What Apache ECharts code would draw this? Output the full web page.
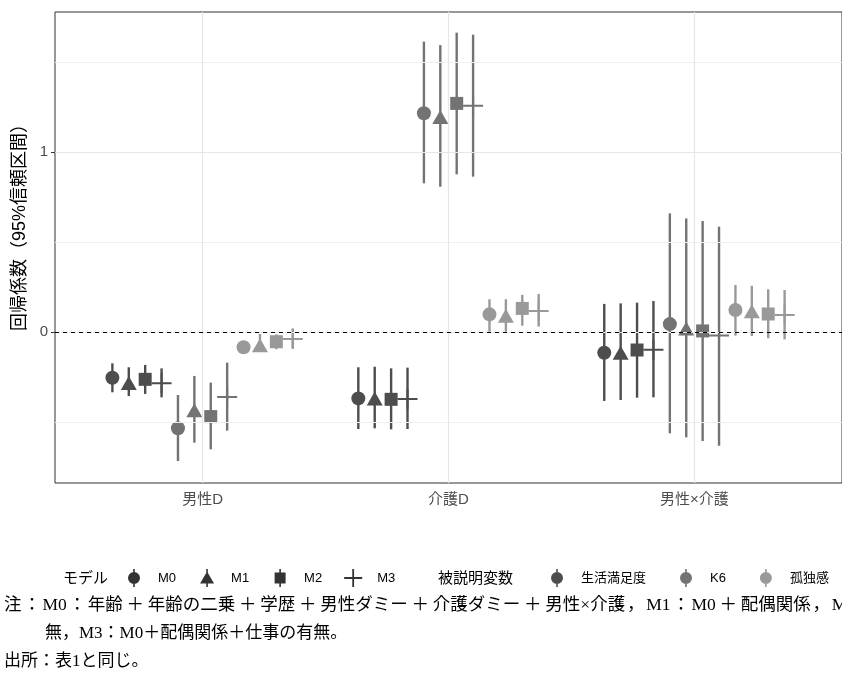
<!DOCTYPE html>
<html><head><meta charset="utf-8">
<script src="https://cdn.jsdelivr.net/npm/echarts@6/dist/echarts.min.js"></script>
<style>html,body{margin:0;padding:0;background:#fff}#c{width:842px;height:679px}</style>
</head><body><div id="c"></div>
<script>
// ---- data ----
const categories = ['男性D', '介護D', '男性×介護'];
const models = ['M0', 'M1', 'M2', 'M3'];
const depVars = ['生活満足度', 'K6', '孤独感'];
const yTickValues = [0, 1];
const minorGridValues = [-0.5, 0.5, 1.5];
const majorGridValues = [0, 1];

// rows = models M0..M3, columns = categories
const lifeEst  = [[-0.254, -0.369, -0.115], [-0.272, -0.359, -0.104], [-0.263, -0.374, -0.100], [-0.285, -0.372, -0.098]];
const lifeLow  = [[-0.335, -0.539, -0.383], [-0.356, -0.535, -0.378], [-0.344, -0.541, -0.365], [-0.363, -0.539, -0.363]];
const lifeHigh = [[-0.174, -0.196,  0.156], [-0.196, -0.193,  0.159], [-0.183, -0.202,  0.163], [-0.202, -0.198,  0.172]];

const k6Est  = [[-0.535, 1.215,  0.044], [-0.424, 1.206,  0.030], [-0.470, 1.270,  0.006], [-0.361, 1.257, -0.020]];
const k6Low  = [[-0.717, 0.826, -0.563], [-0.615, 0.807, -0.585], [-0.652, 0.876, -0.606], [-0.548, 0.863, -0.632]];
const k6High = [[-0.350, 1.613,  0.659], [-0.244, 1.594,  0.631], [-0.281, 1.663,  0.617], [-0.170, 1.652,  0.585]];

const lonelyEst  = [[-0.085, 0.098,  0.122], [-0.063, 0.102,  0.126], [-0.054, 0.131,  0.100], [-0.039, 0.117,  0.094]];
const lonelyLow  = [[-0.105, 0.002, -0.020], [-0.100, 0.002, -0.022], [-0.096, 0.035, -0.035], [-0.090, 0.030, -0.041]];
const lonelyHigh = [[-0.065, 0.182,  0.261], [-0.011, 0.182,  0.257], [-0.013, 0.206,  0.237], [ 0.020, 0.211,  0.233]];

const noteLines = [
  '注：M0：年齢＋年齢の二乗＋学歴＋男性ダミー＋介護ダミー＋男性×介護，M1：M0＋配偶関係，M2：M0＋仕事の有',
  '無，M3：M0＋配偶関係＋仕事の有無。',
  '出所：表1と同じ。'
];

// ---- styling ----
const depColors = ['#4d4d4d', '#737373', '#999999'];
const CJK = "'Liberation Sans','Noto Sans CJK JP',sans-serif";
const SERIF = "'Liberation Serif','Noto Sans CJK JP',serif";
const symCross = 'path://M0,9 L20,9 L20,11 L0,11 Z M9,0 L11,0 L11,20 L9,20 Z';
const modelSymbols = ['circle', 'triangle', 'rect', symCross];
const modelSizes = [[14, 14], [16, 14], [13, 13], [20, 20]];
const modelOffsets = [[0, 0], [0, 2], [0, 0], [0, 0]];
// legend icons: 38x20 box (corner moveTo points fix the box), glyph centred at x=19
const BOX = 'M0,0 M38,20 ';
const VBAR = 'M18.2,1 L19.8,1 L19.8,19 L18.2,19 Z ';
const legendIcons = [
  'path://' + BOX + VBAR + 'M25,10 A6,6 0 1,1 13,10 A6,6 0 1,1 25,10 Z',
  'path://' + BOX + VBAR + 'M19,3.5 L26,15.5 L12,15.5 Z',
  'path://' + BOX + VBAR + 'M13.5,4.5 L24.5,4.5 L24.5,15.5 L13.5,15.5 Z',
  'path://' + BOX + 'M18.1,1 L19.9,1 L19.9,19 L18.1,19 Z M10,9.1 L28,9.1 L28,10.9 L10,10.9 Z'
];

// note line 1 (justified in the original): separators given a little extra room
function justify(s) {
  return s.replace(/([＋：，])/g, (m) => m === '＋' ? '{p|＋}' : (m === '：' ? '{c|：}' : '{c|，}'));
}

const estAll = [lifeEst, k6Est, lonelyEst];
const lowAll = [lifeLow, k6Low, lonelyLow];
const highAll = [lifeHigh, k6High, lonelyHigh];
const dodge = 0.8 / 12;

const series = [];
// grid lines + zero line
series.push({
  type: 'line', data: [], silent: true, z: 0,
  markLine: {
    silent: true, symbol: 'none', label: { show: false }, animation: false,
    data: [
      ...minorGridValues.map(v => ({ yAxis: v, lineStyle: { color: '#efefef', width: 1, type: 'solid' } })),
      ...majorGridValues.map(v => ({ yAxis: v, lineStyle: { color: '#e6e6e6', width: 1.2, type: 'solid' } })),
      ...categories.map((c, i) => ({ xAxis: i + 1, lineStyle: { color: '#e6e6e6', width: 1.2, type: 'solid' } }))
    ]
  }
});
series.push({
  type: 'line', data: [], silent: true, z: 1,
  markLine: {
    silent: true, symbol: 'none', label: { show: false }, animation: false,
    data: [{ yAxis: 0, lineStyle: { color: '#000', width: 1, type: [4, 4] } }]
  }
});

depVars.forEach((dv, d) => {
  models.forEach((m, mi) => {
    const j = d * 4 + mi;
    const errData = categories.map((c, ci) => [ci + 1 + (j - 5.5) * dodge, lowAll[d][mi][ci], highAll[d][mi][ci]]);
    const ptData = categories.map((c, ci) => [ci + 1 + (j - 5.5) * dodge, estAll[d][mi][ci]]);
    series.push({
      name: dv, type: 'custom', z: 2, itemStyle: { color: depColors[d] },
      encode: { x: 0, y: [1, 2] },
      data: errData,
      renderItem: (params, api) => {
        const p1 = api.coord([api.value(0), api.value(1)]);
        const p2 = api.coord([api.value(0), api.value(2)]);
        return { type: 'line', shape: { x1: p1[0], y1: p1[1], x2: p2[0], y2: p2[1] },
                 style: { stroke: depColors[d], lineWidth: 2.4 } };
      }
    });
    series.push({
      name: dv, type: 'scatter', z: 3, data: ptData,
      symbol: modelSymbols[mi], symbolSize: modelSizes[mi], symbolOffset: modelOffsets[mi],
      itemStyle: { color: depColors[d], opacity: 1 }
    });
  });
});
// dummy series for model legend
models.forEach((m, mi) => {
  series.push({ name: m, type: 'scatter', data: [], itemStyle: { color: '#000' } });
});

const option = {
  animation: false,
  backgroundColor: '#fff',
  grid: { left: 55, top: 12, width: 792, height: 471, show: true, borderColor: '#333', borderWidth: 1, backgroundColor: 'transparent' },
  xAxis: {
    type: 'value', min: 0.4, max: 3.6,
    axisLine: { show: false },
    splitLine: { show: false },
    axisTick: { show: true, customValues: [1, 2, 3], length: 4, lineStyle: { color: '#333' } },
    axisLabel: { customValues: [1, 2, 3], formatter: v => categories[Math.round(v) - 1], color: '#4d4d4d', fontSize: 15, fontFamily: CJK, margin: 9 }
  },
  yAxis: {
    type: 'value', min: -151 / 180, max: 320 / 180,
    axisLine: { show: false },
    splitLine: { show: false },
    axisTick: { show: true, customValues: yTickValues, length: 4, lineStyle: { color: '#333' } },
    axisLabel: { customValues: yTickValues, color: '#4d4d4d', fontSize: 15, fontFamily: CJK, margin: 7 },
    name: '回帰係数（95%信頼区間）', nameLocation: 'middle', nameGap: 26, nameRotate: 90,
    nameTextStyle: { fontSize: 18, color: '#000', fontFamily: CJK, padding: [0, 0, 0, 49] }
  },
  legend: [
    {
      left: 115, top: 568, padding: 0, orient: 'horizontal', itemWidth: 38, itemHeight: 20, itemGap: 12,
      symbolKeepAspect: true,
      data: models.map((m, mi) => ({ name: m, icon: legendIcons[mi], itemStyle: { color: '#000' } })),
      textStyle: { fontSize: 13, color: '#000', fontFamily: CJK },
      selectedMode: false
    },
    {
      left: 538, top: 568, padding: 0, orient: 'horizontal', itemWidth: 38, itemHeight: 20, itemGap: 21,
      symbolKeepAspect: true,
      data: depVars.map((dv, d) => ({ name: dv, icon: legendIcons[0], itemStyle: { color: depColors[d] } })),
      textStyle: { fontSize: 13, color: '#000', fontFamily: CJK }
    }
  ],
  graphic: [
    { type: 'text', left: 63, top: 571.5, style: { text: 'モデル', fontSize: 15, fill: '#000', fontFamily: CJK } },
    { type: 'text', left: 438, top: 571.5, style: { text: '被説明変数', fontSize: 15, fill: '#000', fontFamily: CJK } },
    { type: 'text', left: 4, top: 597, style: { text: justify(noteLines[0]), fontSize: 17.5, fill: '#000', fontFamily: SERIF,
        rich: { p: { width: 25, align: 'center', fontSize: 17.5, fontFamily: SERIF, fill: '#000' },
                c: { width: 21, align: 'center', fontSize: 17.5, fontFamily: SERIF, fill: '#000' } } } },
    { type: 'text', left: 45, top: 625, style: { text: noteLines[1], fontSize: 17, fill: '#000', fontFamily: SERIF } },
    { type: 'text', left: 4, top: 653, style: { text: noteLines[2], fontSize: 17, fill: '#000', fontFamily: SERIF } }
  ],
  series: series
};
const chart = echarts.init(document.getElementById('c'), null, { renderer: 'canvas' });
chart.setOption(option);
</script>
</body></html>
